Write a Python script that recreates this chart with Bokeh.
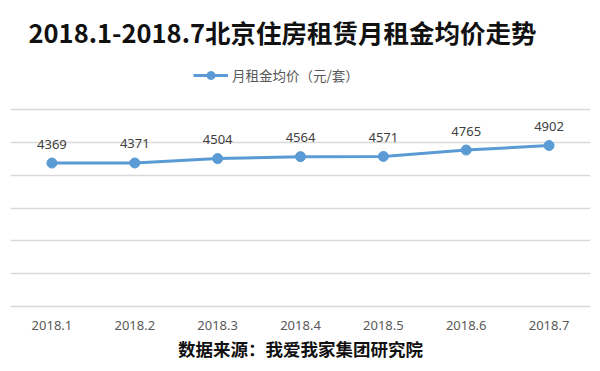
from bokeh.plotting import figure
from bokeh.models import (ColumnDataSource, LabelSet, Label, Legend, LegendItem, Title,
                          FixedTicker, Range1d)
from bokeh.core.properties import value
from bokeh.embed import file_html
from bokeh.resources import INLINE

months = ["2018.1", "2018.2", "2018.3", "2018.4", "2018.5", "2018.6", "2018.7"]
rents = [4369, 4371, 4504, 4564, 4571, 4765, 4902]
y_ticks = [0, 1000, 2000, 3000, 4000, 5000, 6000]
title_text = "2018.1-2018.7北京住房租赁月租金均价走势"
series_name = "月租金均价（元/套）"
source_text = "数据来源：我爱我家集团研究院"

BLUE = "#5B9BD5"
CJK = "Noto Sans CJK SC"

# frame spans the full height above the axis; the extra headroom holds title and legend
FRAME_H = 306
GRID_H = 197
y_top = max(y_ticks) * FRAME_H / GRID_H

src = ColumnDataSource(dict(x=months, y=rents, label=[str(v) for v in rents]))

p = figure(x_range=months, y_range=Range1d(0, y_top), width=600, height=371,
           output_backend="svg", toolbar_location=None, y_axis_location=None,
           min_border_left=10, min_border_right=10, min_border_top=0,
           min_border_bottom=371 - FRAME_H, background_fill_color="white",
           border_fill_color="white", outline_line_color=None)

p.xgrid.visible = False
p.ygrid.ticker = FixedTicker(ticks=y_ticks)
p.ygrid.grid_line_color = "#D9D9D9"
p.ygrid.grid_line_width = 1.5

ax = p.xaxis[0]
ax.axis_line_color = "#D9D9D9"
ax.axis_line_width = 1.5
ax.major_tick_line_color = None
ax.minor_tick_line_color = None
ax.major_label_text_font = "Noto Sans"
ax.major_label_text_font_size = "13px"
ax.major_label_text_color = "#595959"
ax.major_label_standoff = 8

ln = p.line("x", "y", source=src, line_color=BLUE, line_width=3)
sc = p.scatter("x", "y", source=src, size=10, fill_color=BLUE, line_color=BLUE)

labels = LabelSet(x="x", y="y", text="label", source=src, y_offset=19,
                  text_align="center", text_baseline="middle",
                  text_font=value("Noto Sans"), text_font_size=value("13px"),
                  text_color="#404040")
p.add_layout(labels)

legend = Legend(items=[LegendItem(label=series_name, renderers=[ln, sc])],
                location=(183, 221), orientation="horizontal",
                padding=0, margin=0, spacing=0, glyph_width=35, glyph_height=20,
                label_height=20, label_standoff=4,
                label_text_font=CJK, label_text_font_size="13.5px",
                label_text_color="#595959", border_line_color=None,
                background_fill_alpha=0)
p.add_layout(legend, "center")

title = Label(x=18, y=275, x_units="screen", y_units="screen", text=title_text,
              text_font=CJK, text_font_size="25.5px", text_font_style="bold",
              text_color="#111111", text_baseline="middle", text_align="left")
p.add_layout(title)

source_title = Title(text=source_text, align="center", standoff=3,
                     text_font=CJK, text_font_size="17.5px", text_font_style="bold",
                     text_color="#111111")
p.add_layout(source_title, "below")

open("out.html", "w").write(file_html(p, INLINE))
